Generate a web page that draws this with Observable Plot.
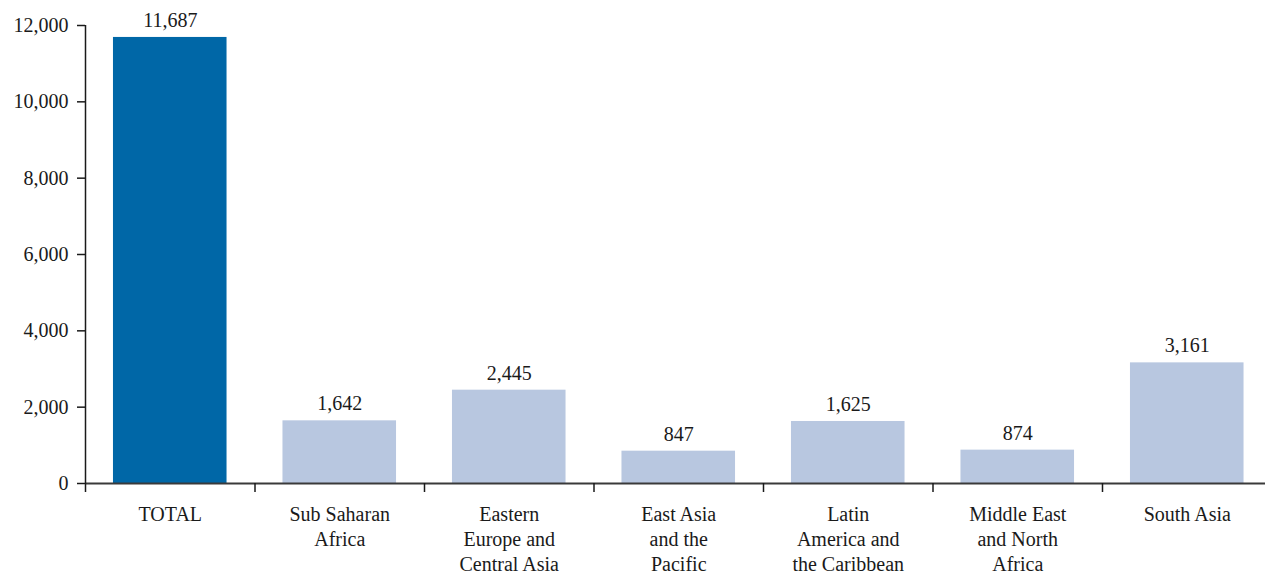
<!DOCTYPE html>
<html>
<head>
<meta charset="utf-8">
<script src="https://cdn.jsdelivr.net/npm/d3@7"></script>
<script src="https://cdn.jsdelivr.net/npm/@observablehq/plot@0.6"></script>
<style>
  body { margin: 0; background: #fff; }
  #chart { font-family: "Liberation Serif", "DejaVu Serif", serif; }
</style>
</head>
<body>
<div id="chart"></div>
<script>
// Regions (axis labels, with line breaks) and their values
const regions = [
  "TOTAL",
  "Sub Saharan\nAfrica",
  "Eastern\nEurope and\nCentral Asia",
  "East Asia\nand the\nPacific",
  "Latin\nAmerica and\nthe Caribbean",
  "Middle East\nand North\nAfrica",
  "South Asia"
];
const values = [11687, 1642, 2445, 847, 1625, 874, 3161];
const yTicks = [0, 2000, 4000, 6000, 8000, 10000, 12000];

const data = regions.map((region, i) => ({ region, value: values[i] }));
const fmt = d3.format(",");
const yMax = d3.max(yTicks);

const width = 1265, height = 574;
const marginLeft = 85, marginTop = 25, marginBottom = 91;
const step = 169.5;                       // width of one category slot
const xRange = [marginLeft, marginLeft + step * regions.length];

const dark = "#0067a7", light = "#b8c7e0", ink = "#1a1a1a";
const fontSize = 20;

const chart = Plot.plot({
  width, height, marginLeft, marginTop, marginBottom, marginRight: 0,
  style: { fontFamily: "'Liberation Serif', 'DejaVu Serif', serif", fontSize: fontSize + "px", color: ink, background: "#fff" },
  x: { domain: regions, range: xRange, paddingInner: 0.33, paddingOuter: 0.165, round: false },
  y: { domain: [0, yMax] },
  marks: [
    Plot.barY(data, { x: "region", y: "value", fill: d => d.region === "TOTAL" ? dark : light }),
    Plot.text(data, { x: "region", y: "value", text: d => fmt(d.value), dy: -17, fontSize, fill: ink }),
    // baseline
    Plot.ruleY([0], { stroke: "#3a3a3a", strokeWidth: 2 }),
    // vertical axis line at the left edge of the first slot
    Plot.ruleX([regions[0]], { x: d => d, dx: -step / 2, y1: 0, y2: yMax, stroke: ink, strokeWidth: 1.5 }),
    // category separator ticks below the baseline
    Plot.ruleX(regions, { x: d => d, dx: -step / 2, y1: 0, y2: 0, insetTop: 9, stroke: ink, strokeWidth: 1.5 }),
    Plot.axisY({ ticks: yTicks, tickFormat: fmt, tickSize: 8, tickPadding: 9, label: null, fontSize, stroke: ink, strokeWidth: 1.5 }),
    Plot.axisX({ tickSize: 0, tickPadding: 19.5, label: null, fontSize, lineHeight: 25 / fontSize })
  ]
});

document.getElementById("chart").appendChild(chart);
</script>
</body>
</html>
